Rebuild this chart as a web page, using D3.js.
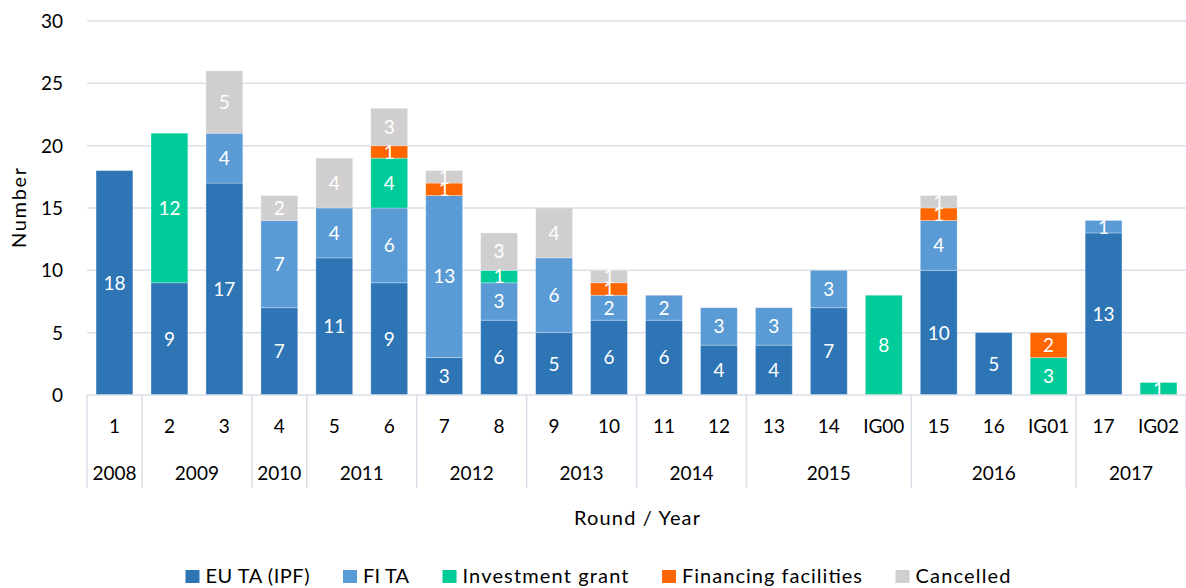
<!DOCTYPE html>
<html>
<head>
<meta charset="utf-8">
<script src="https://cdn.jsdelivr.net/npm/d3@7"></script>
<style>
  html, body { margin: 0; padding: 0; background: #fff; }
  svg { display: block; font-family: Lato, "Noto Sans", sans-serif; }
</style>
</head>
<body>
<svg id="chart" width="1186" height="588"></svg>
<script>
const rounds = ["1","2","3","4","5","6","7","8","9","10","11","12","13","14","IG00","15","16","IG01","17","IG02"];
const years = ["2008","2009","2009","2010","2011","2011","2012","2012","2013","2013","2014","2014","2015","2015","2015","2016","2016","2016","2017","2017"];
const seriesNames = ["EU TA (IPF)", "FI TA", "Investment grant", "Financing facilities", "Cancelled"];
const euTA      = [18, 9,17, 7,11, 9, 3, 6, 5, 6, 6, 4, 4, 7, 0,10, 5, 0,13, 0];
const fiTA      = [ 0, 0, 4, 7, 4, 6,13, 3, 6, 2, 2, 3, 3, 3, 0, 4, 0, 0, 1, 0];
const invGrant  = [ 0,12, 0, 0, 0, 4, 0, 1, 0, 0, 0, 0, 0, 0, 8, 0, 0, 3, 0, 1];
const finFac    = [ 0, 0, 0, 0, 0, 1, 1, 0, 0, 1, 0, 0, 0, 0, 0, 1, 0, 2, 0, 0];
const cancelled = [ 0, 0, 5, 2, 4, 3, 1, 3, 4, 1, 0, 0, 0, 0, 0, 1, 0, 0, 0, 0];
const yTicks = [0, 5, 10, 15, 20, 25, 30];
const colors = ["#2E75B6", "#5B9BD5", "#00CC99", "#FF6600", "#D0CECE"];

(function () {
const svg = d3.select("#chart");
const mLeft = 87, mRight = 1186, mTop = 21, mBottom = 395;

const keys = ["eu","fi","ig","ff","c"];
const table = rounds.map((r, i) => ({
  round: r, idx: i, year: years[i],
  eu: euTA[i], fi: fiTA[i], ig: invGrant[i], ff: finFac[i], c: cancelled[i]
}));

const x = d3.scaleBand().domain(d3.range(rounds.length)).range([mLeft, mRight]).paddingInner(0.33).paddingOuter(0.165);
const y = d3.scaleLinear().domain([0, 30]).range([mBottom, mTop]);
const color = d3.scaleOrdinal().domain(keys).range(colors);

const gridColor = "#D9DFE8";
const fontSize = 19;
const wordSize = 20;

// gridlines
svg.append("g").selectAll("line").data(yTicks.filter(t => t > 0)).join("line")
  .attr("x1", mLeft).attr("x2", mRight)
  .attr("y1", d => y(d)).attr("y2", d => y(d))
  .attr("stroke", gridColor).attr("stroke-width", 1.5);

// y axis labels
const yAxis = d3.axisLeft(y).tickValues(yTicks).tickSize(0).tickPadding(0);
const yg = svg.append("g").attr("transform", `translate(63,0)`).call(yAxis);
yg.select(".domain").remove();
yg.selectAll("text").attr("font-size", fontSize).attr("fill", "#000").attr("font-family", "Lato, sans-serif").attr("dy", "0.35em");

// stacked bars
const stacked = d3.stack().keys(keys)(table);
const layers = svg.append("g").selectAll("g").data(stacked).join("g")
  .attr("fill", d => color(d.key));
layers.selectAll("rect").data(d => d.filter(s => s[1] - s[0] > 0)).join("rect")
  .attr("x", d => x(d.data.idx))
  .attr("width", x.bandwidth())
  .attr("y", d => y(d[1]))
  .attr("height", d => y(d[0]) - y(d[1]))
  .attr("stroke", "rgba(255,255,255,0.35)").attr("stroke-width", 0.8);

// data labels
const labels = svg.append("g");
stacked.forEach(layer => {
  layer.forEach(s => {
    const v = s[1] - s[0];
    if (v > 0) {
      labels.append("text")
        .attr("x", x(s.data.idx) + x.bandwidth() / 2)
        .attr("y", (y(s[0]) + y(s[1])) / 2)
        .attr("dy", "0.36em")
        .attr("text-anchor", "middle")
        .attr("font-size", fontSize)
        .attr("fill", "#fff")
        .text(v);
    }
  });
});

// category axis
const step = x.step();
const xAxis = d3.axisBottom(x).tickFormat(i => rounds[i]).tickSize(0).tickPadding(0);
const xg = svg.append("g").attr("transform", `translate(0,${mBottom})`).call(xAxis);
xg.select(".domain").attr("stroke", gridColor).attr("stroke-width", 1.5).attr("d", `M${mLeft},0H${mRight}`);
xg.selectAll("text").attr("font-size", fontSize).attr("fill", "#000").attr("font-family", "Lato, sans-serif")
  .attr("y", 31).attr("dy", "0.35em");

// year groups
const groups = [];
years.forEach((yr, i) => {
  if (!groups.length || groups[groups.length - 1].year !== yr) groups.push({year: yr, start: i, end: i});
  else groups[groups.length - 1].end = i;
});
const gStart = i => mLeft + i * step;
svg.append("g").selectAll("line").data(groups.map(g => g.start).concat([rounds.length])).join("line")
  .attr("x1", d => gStart(d)).attr("x2", d => gStart(d))
  .attr("y1", mBottom).attr("y2", 488)
  .attr("stroke", gridColor).attr("stroke-width", 1.5);
svg.append("g").selectAll("text").data(groups).join("text")
  .attr("x", g => (gStart(g.start) + gStart(g.end + 1)) / 2)
  .attr("y", 473).attr("dy", "0.35em")
  .attr("text-anchor", "middle").attr("font-size", fontSize).attr("fill", "#000")
  .text(g => g.year);

// axis titles
svg.append("text").attr("x", 637).attr("y", 518).attr("dy", "0.35em")
  .attr("text-anchor", "middle").attr("font-size", wordSize).attr("fill", "#000")
  .attr("textLength", 126).attr("lengthAdjust", "spacing")
  .text("Round / Year");
svg.append("text").attr("transform", `translate(19,${(mTop + mBottom) / 2}) rotate(-90)`)
  .attr("dy", "0.35em").attr("text-anchor", "middle").attr("font-size", wordSize).attr("fill", "#000")
  .attr("textLength", 80).attr("lengthAdjust", "spacing")
  .text("Number");

// legend
const legendWidths = [104, 46, 166, 180, 95];
const legend = svg.append("g");
const items = [];
seriesNames.forEach((name, i) => {
  const g = legend.append("g");
  g.append("rect").attr("x", 0).attr("y", -6).attr("width", 14).attr("height", 13).attr("fill", colors[i]);
  g.append("text").attr("x", 20).attr("y", 0).attr("dy", "0.35em")
    .attr("font-size", wordSize).attr("fill", "#000")
    .attr("textLength", legendWidths[i]).attr("lengthAdjust", "spacing")
    .text(name);
  items.push({g, w: 20 + legendWidths[i]});
});
const gap = 33.5;
const total = d3.sum(items, d => d.w) + gap * (items.length - 1);
let cx = 598 - total / 2;
items.forEach(it => {
  it.g.attr("transform", `translate(${cx},576)`);
  cx += it.w + gap;
});
})();
</script>
</body>
</html>
